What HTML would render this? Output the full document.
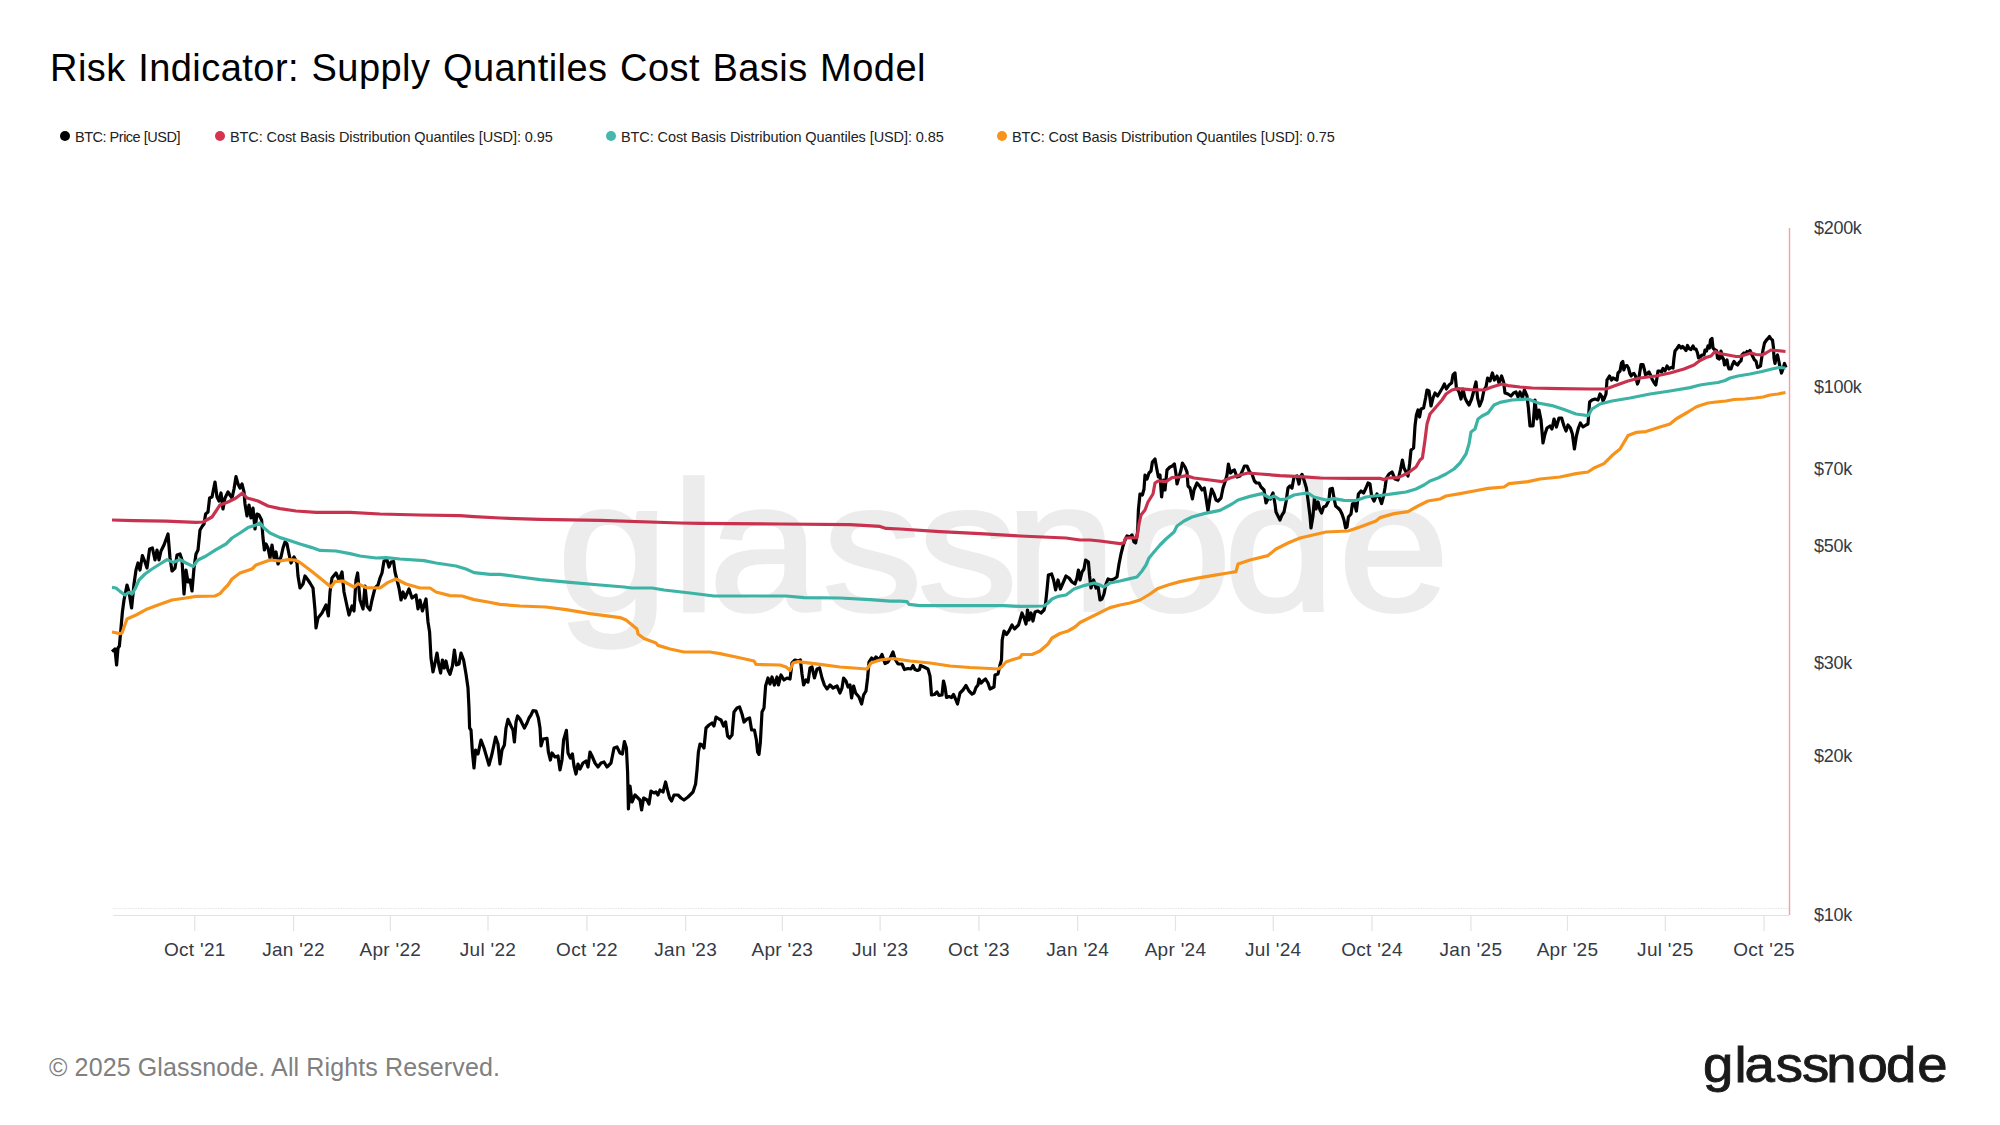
<!DOCTYPE html>
<html lang="en"><head><meta charset="utf-8"><title>Risk Indicator: Supply Quantiles Cost Basis Model</title>
<style>
html,body{margin:0;padding:0;background:#fff;}
body{width:2000px;height:1125px;position:relative;overflow:hidden;font-family:"Liberation Sans",sans-serif;}
.title{position:absolute;left:50px;top:46px;font-size:38px;line-height:44px;color:#000;white-space:nowrap;letter-spacing:0.45px;word-spacing:1.5px;}
.legend{position:absolute;top:127px;height:20px;line-height:20px;font-size:14.5px;color:#222;white-space:nowrap;letter-spacing:-0.09px;}
.legend i{position:absolute;left:-15.5px;top:4.4px;width:10px;height:10px;border-radius:50%;}
.foot{position:absolute;left:49px;top:1052px;font-size:25px;line-height:30px;color:#808080;white-space:nowrap;letter-spacing:0.12px;}
.logo{position:absolute;left:1701px;top:1034px;font-size:52px;line-height:60px;color:#1a1a1a;white-space:nowrap;letter-spacing:1.4px;-webkit-text-stroke:0.7px #1a1a1a;}
svg{position:absolute;left:0;top:0;}
svg text{font-family:"Liberation Sans",sans-serif;}
.ax text{font-size:18px;fill:#343a46;}
.ax .x text{font-size:19px;letter-spacing:0.3px;}
.ax .y text{letter-spacing:-0.3px;}
.ln{fill:none;stroke-width:3.2;stroke-linejoin:round;stroke-linecap:butt;}
</style></head><body>
<svg width="2000" height="1125" viewBox="0 0 2000 1125">
<text transform="scale(1.08,1)" x="516.2 622.1 656.6 761.8 850.0 931.1 1037.7 1133.3 1239.3" y="610.5" font-size="184" fill="#ececec" stroke="#ececec" stroke-width="3.6">glassnode</text>
<line x1="113" y1="908.5" x2="1789" y2="908.5" stroke="#e6e6e6" stroke-width="1" stroke-dasharray="1.5 1"/>
<line x1="113" y1="915.5" x2="1789" y2="915.5" stroke="#e2e3e6" stroke-width="1.2"/>
<g stroke="#e2e3e6" stroke-width="1.2"><line x1="194.8" y1="915" x2="194.8" y2="931"/><line x1="293.6" y1="915" x2="293.6" y2="931"/><line x1="390.3" y1="915" x2="390.3" y2="931"/><line x1="488.0" y1="915" x2="488.0" y2="931"/><line x1="586.9" y1="915" x2="586.9" y2="931"/><line x1="685.7" y1="915" x2="685.7" y2="931"/><line x1="782.3" y1="915" x2="782.3" y2="931"/><line x1="880.1" y1="915" x2="880.1" y2="931"/><line x1="978.9" y1="915" x2="978.9" y2="931"/><line x1="1077.7" y1="915" x2="1077.7" y2="931"/><line x1="1175.5" y1="915" x2="1175.5" y2="931"/><line x1="1273.2" y1="915" x2="1273.2" y2="931"/><line x1="1372.0" y1="915" x2="1372.0" y2="931"/><line x1="1470.9" y1="915" x2="1470.9" y2="931"/><line x1="1567.5" y1="915" x2="1567.5" y2="931"/><line x1="1665.3" y1="915" x2="1665.3" y2="931"/><line x1="1764.1" y1="915" x2="1764.1" y2="931"/></g>
<polyline class="ln" stroke="#000" points="112,651.6 115,649 116.6,665 118,648 119.4,646 121,628 122.4,612 124,600 127,585 129,592 131.6,608 134,584 136,570 138,563 140,570 142.4,555.6 145,562 147,568 149.6,549 152.4,548 155,560 157,550 159,560 161,551 164,545 168,534 170,558 172,571 175,568 177,555 180,554 182,560 184,594 186,570 188,582 190,580 192,591 194,568 196,554 198,550 200,530 202.4,526 204,524 205.6,514 208,512 209.6,498 212,497 215,482 217,497 219,501 221,493 223,509 225,498 228,492 230,495 232,498 234,489 236,476.6 238,484 240,488 242,484 244,492 245,504 247,516 249,505 251,518 253,508 255,529 257,514 259,515 261.6,520 263,538 264.4,550 266,544 268,548 270,558 272,545 274,558 276,552 278,564 281,557 283,548 285,542 287,544 289,554 291,563 294,557 297,563 298,576 300,588 303,584 305,576 308,580 310,583 313,588 315,610 316,628 318,618 322,613 326,605 328.4,616 330,592 332,578 336,573 339,580 342,572 344,592 347,606 349,615 352,606 354,611 356,580 357.6,573 360,600 363,609 365,586 367,606 370,610 372,600 375,588 378,585 380,578 382,573 384,561 387,560 389,567 391,562 393.6,561.6 395,572 397,580 399,588 401,600 403,592 405,598 409,589 412,598 416,595 418,609 420,600 422.4,611 426,599 428,622 429.6,632 431,658 433,672 434.4,666 437,653 439,666 440.6,673 442.4,660 444.4,668 446,661 448,670 450,674.4 452.4,666 454.4,650 456.4,665 459,664 461,653 463.6,660 466,674 468,688 469,708 469.6,728 471,730 472.4,752 474,768 475.6,750 478,754 481,740 484,748 489,765 492,754 495.6,737 498,744 500,764 502,750 504.4,745 506,728 508,719.4 511,726 513,730 514.4,742 516,722 517.6,716 520,719 522.4,724 524.4,728 527,723 529,718 531,715 533,710.6 536,711 538.4,718 540,728 541,746 543,739 547,738.4 548.4,752 550.4,760 552,753 555,757 558,756 560,770 562,760 563.6,740 566.4,730.4 568,753 570.4,758 572.4,754 574,766 576,774 578,764 580,769 583,763 586,761 588,767 590,752 592,756 595,763 598,767 601,763 604,762 607,767 611,763 614,748 617,747 620,753 622.4,754 624.4,741.6 626.4,748 627.6,772 628.4,809 630,786 632,802 635,795 638,798 640,800 641.6,810 643.6,798 647,800 649,804 651,791 654,793 656,792 658,795 660,790 663,792 665.6,782 668,792 669.6,798 671.6,801 674,795 678,795 681,798 684,800 688,797 693,792 695.6,784 697,770 698.4,752 700,744 702,745 704,748 706,728 709,725 712,723 714,726 716,717 719,719 721,720 723.6,726 725.6,722 727.6,736 729.6,738 732,735 734,712 737,708 739.6,707 742,714 744,722 747,719 749.6,718 751.6,730 754.4,730 756.4,740 757.6,752 759,754.4 760.4,742 762,712 764,708 765.6,686 768,678 770,684 772,677 774.4,685 777,677 778.4,685 781,675 784,680 787,678 790,679 792,663 795,660 798,661 800.4,660 802,674 803.6,685 806,680 808,682 810,668 812,667 814.4,678 817,669 819.6,668 822,678 824.4,685 827,689 830,685 833,688 837,686 840,693 842,688 843.6,678 846,681 848,687 850,685 851.6,698 853.6,686 855.6,693 859,697 861.6,704 863.6,695 866,691 867.6,678 869,662 871.6,658 874,660 876,657 879,660 882,654.5 885,663.5 888,662 890,658.5 893,652 895,659 898,664 902,664 904.5,669.5 908,668.5 911,669 913,665.5 915,669.5 917.5,670.5 919.5,669.5 920.5,665.5 924,667 928,669 930,676 931.5,695 934.5,694.5 937,692 939,695.5 942,695 943.5,681 945,687 946.5,697.5 949,696.5 951.5,697.5 953.5,694.5 955.5,699 957.5,704 960,693 963,690 966,685.5 969,691 972,694 974,693 976,687.5 978,685 979,679 981,683 983,681 985.5,679 988,683 990,689 994,687 995,675 998,674 1000,665 1001.5,660 1002.2,640 1004,631 1006.5,634.5 1009,631 1012,625 1014.5,629 1018.5,625 1020,620 1022,613 1024.5,619 1026,624 1027.5,610 1029,620 1031,613 1033,621 1035,612 1038,611 1041,613 1044,610 1045.5,604 1047,590 1048.4,575 1051.6,574 1053.6,580 1055.6,590 1058,580 1060.4,589 1063,583 1066,576 1069,578 1072,582 1075,584 1077,578 1078.4,570 1080,580 1082,572 1084,569 1085.6,560 1088.4,562 1089.6,576 1091,588 1093.6,580 1096,588 1098,586 1100,600 1102,599 1104,594 1106,584 1108,579 1111,580 1114,579 1117,577 1119,564 1121,554 1123,546 1125,540 1127,536 1130,537 1132,535 1134,542 1135.6,543 1137.6,532 1138.4,510 1140,494 1142.4,495 1144,489 1145,475 1147,479 1149,473 1151,471 1152.4,462 1155,459 1157,470 1158.4,477 1160,475 1161.6,497 1163.6,480 1165,490 1167,470 1170,467 1172.4,466 1174.4,464 1176,474 1177,484 1179,477 1181,470 1182.4,463 1185,467 1187,472 1188,486 1190,488 1192.4,499 1194,490 1197,483 1199.6,486 1202,490 1204.4,488 1206,498 1208,511 1209.6,500 1211.6,489 1214,494 1216,500 1218,501 1221,498 1223,488 1225,482 1227,475 1228.4,464 1230.4,473 1232.4,471 1234.4,470 1237,477 1240,476 1242.4,471 1244.4,466 1247,466 1249.6,472 1252,474 1254.4,481 1256.4,483 1259,483 1261,487 1264,490 1266,503 1268.4,498 1270.4,499 1273,493 1275,504 1276,512 1278,516 1280,520 1282,515 1284,512 1286,502 1288,488 1290,486 1292,488 1294,477 1297,476 1299,484 1300,478 1302,474.4 1304,480 1306.4,488 1308,500 1310,516 1311,528 1313,516 1314.4,498 1316,509 1318,502 1320,510 1321.6,513 1323.6,507 1326,506 1329,500 1330,489 1332.4,488.4 1334,498 1335.6,506 1338,508 1340,510 1342,514 1344,520 1345.6,528 1347,527 1348.4,517 1351,514 1352.4,504 1354.4,503 1356.4,511 1358.4,494 1361,491 1363.6,493 1366,488 1368,483 1370,484 1371.6,496 1374,501 1377,494 1379.6,498 1381.6,503.6 1383.6,496 1385,488 1386.4,478 1389,474 1392,472 1395,479 1398,480 1400.4,470 1402.4,460 1404,468 1406,472 1408,476 1409.6,464 1411,450 1413.6,448 1415,426 1416.4,415 1418,410 1419.6,417 1421,409 1423.6,408 1425.6,398 1427,390 1429,391 1431,406 1433,398 1435,393 1437.6,396 1440,392 1442.4,388 1444.4,384 1446.4,389 1449,385 1451.6,383 1453,375 1455,373 1456.4,388 1459,392 1461,399 1463,389 1465,398 1467,402 1469,405 1471.6,399 1474,390 1476,382 1477.6,398 1479.6,406 1482,400 1484,390 1486,387 1487.6,378 1490,381 1492.4,373 1494.4,380 1497,376 1499,383 1501.6,376 1503.6,382 1505,393 1508,394 1511,396 1513.6,393 1516,392 1518,397 1520,392 1522.4,398 1524.4,390 1527,396 1528.4,408 1530,426 1533,426 1535,400 1537,419 1539,410 1541,420 1543,443 1545,434 1547,428 1550,426 1552,429 1554,419 1556.4,427 1559,418 1561.6,418 1564,426 1566,431 1568,425 1570.4,428 1572.4,434 1574.4,449 1576.4,436 1578.4,428 1580.4,423 1583,427 1586,425 1588,424 1589.6,402 1592,400 1595,399 1598,400 1600,394 1602,397 1603,401 1604.5,398 1606,394 1607,380 1609.5,376 1611.5,380 1613,378 1615,379 1617,380 1618,373 1620,371 1621.5,363 1622.8,361.5 1623.8,370 1625.2,366 1627,365.5 1628.5,368 1630,374 1631.2,376 1632.5,374 1634,373.5 1635.5,376 1636.5,380 1637.5,384 1638.5,381.5 1639.5,374 1641,364.5 1643,364.5 1644.5,370 1645.5,375 1647,374 1649,372 1650.5,375 1652,379 1654,382.5 1655.8,385 1656.8,379 1658,371 1660,371 1661.5,372 1663,368.5 1665,371 1667,366 1669,369 1671,367.5 1673,368 1674,358 1675,351 1677,348.5 1679,345.5 1681,348 1682.5,346.5 1684.5,348.5 1686,350.5 1687.5,345.5 1689,348.5 1691,349.5 1693,346 1694.5,349 1696,349 1697.5,353 1698.5,358 1700,357 1702,355 1704,355 1705,350 1706.5,351 1708,346 1709.5,348 1710.5,340 1712,338.5 1713,348 1715,350 1716.5,350.5 1717.5,358 1719,359 1720,358 1721,351 1722.5,358 1723.5,359 1724.5,365 1725.5,363 1727,360 1728,366 1729,369 1731,369 1732.5,364.5 1734,361.5 1736,364 1737.5,365 1739.5,362 1741,361 1742,355 1744,353 1745.5,354 1747,351.5 1748.5,352.5 1750,350.5 1751.5,354 1753,357 1754.5,360 1756,361 1757.5,367.5 1759,367 1760.5,366 1761.5,359 1763,350 1764.5,343 1766.5,340 1768,338.5 1769.5,336.5 1771,339 1772.5,340 1773.5,348 1774,358 1775,363.5 1776,358 1777.5,355 1779,362 1780,367 1781.5,373 1783,369 1784.5,363.5 1786,367.5"/>
<polyline class="ln" stroke="#c9324e" points="112,520 134,520.6 166,521.2 196,522.4 203,522 212,517 220,505 228,502 236,498 242.4,493 247,498 258,501 268,506 280,508.6 296,511 316,512.4 350,512.4 380,514 420,515 460,515.6 474,516.6 500,518 540,519.4 600,520.4 680,523 700,523.4 780,524 850,524.6 880,526.4 886,528.4 900,529 940,531.6 980,533.6 1020,536 1066,538 1080,540 1090,540 1100,541 1120,543.6 1124,543 1125.6,538 1137,537.6 1139,524 1141,515 1145,510 1148,502 1153,494 1155,483 1158,481 1166,481.6 1172,477.6 1180,477 1186,475.6 1194,478 1210,480 1222,481.6 1230,478 1240,475 1248,473 1260,474 1280,475.6 1300,476.6 1320,478 1350,478.4 1380,478.4 1384,479.6 1388,478 1398,477.6 1408,473 1416,467 1420,460 1422.4,458 1425,440 1427,424 1430,414 1436,407 1442,400 1446,394 1452,390 1458,388.6 1470,389.6 1484,390 1492,387 1502,384 1508,385.6 1520,387 1532,388 1560,388.6 1590,389 1606,389 1614,386 1628,381 1640,378 1656,376 1670,373 1684,369 1694,365 1700,360.5 1706,357.5 1711,356 1715,351.5 1720,353.5 1728,355 1736,356.5 1740,356.5 1746,354.5 1751,353 1756,354.5 1762,355 1766,353 1771,350 1776,350.5 1785.5,351.5"/>
<polyline class="ln" stroke="#3db3a6" points="112,587.4 116,588 120,591.4 125,595 129,592.4 132,594 135,589 139,580 145,574 152,569 160,564 167,559.6 173,562.4 180,559.6 186,563 193,566.4 198,560 206,556 216,549.6 226,544 232,538 240,533 248,527.6 256,525 260,523 264,528 270,533 280,537.6 288,540 300,544 312,547.6 320,550.4 336,551 350,553.6 360,556 376,558 386,557.6 400,559 424,560.6 436,563 456,566 466,569 474,572.6 490,574.4 500,574.4 520,577 540,579.6 570,582.4 600,585 624,587 632,588 652,588 664,590 690,593 714,596 786,596 804,597.6 840,598 870,599.6 890,601.2 900,601.2 907,601.6 909,604.4 920,605.6 960,605.6 1004,605.6 1020,606.4 1044,606 1048,603 1052,599 1058,596.4 1066,595 1074,589 1084,585.6 1094,583 1100,585 1104,587 1110,583 1120,581 1130,578.6 1137,577 1142,571 1146,565 1149,558 1154,552 1160,545 1166,539 1174,532 1177,526 1184,521 1192,517 1204,513.6 1220,510.4 1232,504 1238,500 1250,496.4 1262,493.6 1270,498 1274,496 1280,499.6 1286,499 1294,495 1300,494 1308,493 1314,497 1326,500 1334,498.6 1344,500.4 1356,500.6 1366,497 1374,496 1384,495 1394,493.6 1406,492 1416,489 1424,485 1430,481 1438,478 1446,474 1454,469 1460,463 1466,454 1469,444 1471,432 1475,429 1478,419 1482,416 1488,413 1494,405 1500,402.4 1512,400 1528,399 1538,403 1552,405.6 1564,409.6 1576,414 1588,415.6 1592,409 1600,404 1612,401 1630,398 1650,394 1670,391 1690,387.6 1700,385 1710,383.5 1718,382.5 1725,380.5 1730,378 1738,376 1750,374 1762,371.5 1772,369 1779,367.5 1785.5,368"/>
<polyline class="ln" stroke="#f7931a" points="112,632 120,633.6 122,633 127,619 136,615 146,609.6 158,605 172,600 186,598 196,596.4 215,596 220,593.6 224,589 228,585 232,579 240,573 252,569 256,565 270,560 280,561 288,559.6 295,560 300,562.4 310,570 320,578 331,587 335,581.6 343,581 354,587 358,583.6 366,587.6 380,588 388,582.4 396,579 406,584 420,588 430,588 436,592 450,595.6 462,596 474,599.6 488,602 500,604.4 520,606 546,607 566,609.6 590,613.6 620,617.6 626,620 637,629 638,634 644,638.6 656,643 658,645.4 670,649 684,652 710,652 720,653.6 736,657 754,661 756,664.4 780,665 786,667 790,670.4 793,663 798,661.6 820,664.4 840,667 867,669 871,663 880,660 893,658.5 910,661 930,663 950,666 970,667.5 990,668.5 998,669 1001.5,667 1006,662 1013,659.5 1020,657.5 1022,654.5 1032,654.5 1040,651 1048,644 1052,638 1060,633.5 1068,631 1075,627 1080,622.5 1110,607.6 1120,605 1130,603 1140,600 1150,594 1158,588.4 1168,585 1180,581.6 1196,578.4 1212,575.6 1228,573 1236,571.6 1238,564 1250,560 1268,555.6 1276,549 1288,543 1300,538 1326,532 1348,531 1360,527 1376,521 1380,517.6 1394,513.6 1408,511.6 1418,506 1428,501 1440,499 1446,496 1460,493.6 1474,491 1488,488.4 1504,487 1509,483.6 1528,481.6 1540,479 1560,477 1576,473.6 1588,472 1594,468 1604,463.6 1612,455.6 1620,449 1628,435.6 1636,432.4 1646,431.6 1660,427 1670,424 1676,419 1688,412 1696,407 1700,405.5 1708,403 1716,402 1726,401 1734,399.5 1745,399 1755,398 1763,397 1770,395 1778,394 1785.5,392.5"/>
<line x1="1789.5" y1="228" x2="1789.5" y2="915" stroke="#f2a0a6" stroke-width="1.4"/>
<text transform="scale(1.08,1)" x="1576.9 1606.0 1615.2 1644.2 1668.6 1691.0 1720.0 1746.3 1775.3" y="1081.8" font-size="50.5" fill="#1a1a1a" stroke="#1a1a1a" stroke-width="0.9">glassnode</text>
<g class="ax"><g class="x"><text x="194.8" y="956" text-anchor="middle">Oct '21</text><text x="293.6" y="956" text-anchor="middle">Jan '22</text><text x="390.3" y="956" text-anchor="middle">Apr '22</text><text x="488.0" y="956" text-anchor="middle">Jul '22</text><text x="586.9" y="956" text-anchor="middle">Oct '22</text><text x="685.7" y="956" text-anchor="middle">Jan '23</text><text x="782.3" y="956" text-anchor="middle">Apr '23</text><text x="880.1" y="956" text-anchor="middle">Jul '23</text><text x="978.9" y="956" text-anchor="middle">Oct '23</text><text x="1077.7" y="956" text-anchor="middle">Jan '24</text><text x="1175.5" y="956" text-anchor="middle">Apr '24</text><text x="1273.2" y="956" text-anchor="middle">Jul '24</text><text x="1372.0" y="956" text-anchor="middle">Oct '24</text><text x="1470.9" y="956" text-anchor="middle">Jan '25</text><text x="1567.5" y="956" text-anchor="middle">Apr '25</text><text x="1665.3" y="956" text-anchor="middle">Jul '25</text><text x="1764.1" y="956" text-anchor="middle">Oct '25</text></g><g class="y"><text x="1814" y="234">$200k</text><text x="1814" y="393">$100k</text><text x="1814" y="474.5">$70k</text><text x="1814" y="552">$50k</text><text x="1814" y="669">$30k</text><text x="1814" y="762">$20k</text><text x="1814" y="920.5">$10k</text></g></g>
</svg>
<div class="title">Risk Indicator: Supply Quantiles Cost Basis Model</div>
<div class="legend" style="left:75px;letter-spacing:-0.49px"><i style="background:#000"></i>BTC: Price [USD]</div>
<div class="legend" style="left:230px"><i style="background:#d4344f"></i>BTC: Cost Basis Distribution Quantiles [USD]: 0.95</div>
<div class="legend" style="left:621px"><i style="background:#44b8ab"></i>BTC: Cost Basis Distribution Quantiles [USD]: 0.85</div>
<div class="legend" style="left:1012px"><i style="background:#f7931a"></i>BTC: Cost Basis Distribution Quantiles [USD]: 0.75</div>
<div class="foot">© 2025 Glassnode. All Rights Reserved.</div>
</body></html>
